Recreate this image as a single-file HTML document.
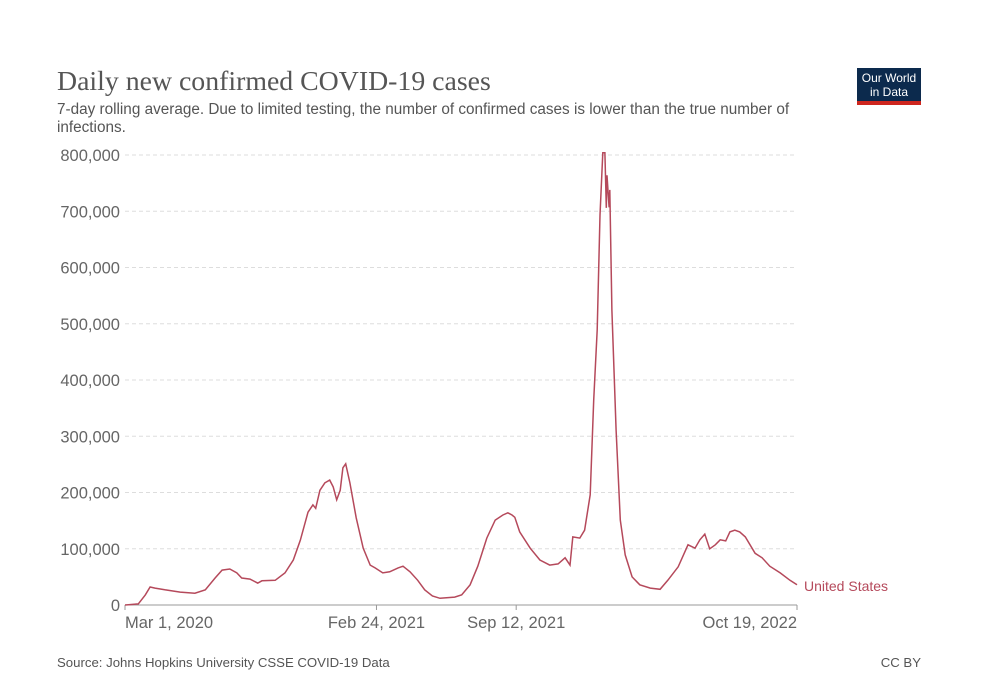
<!DOCTYPE html>
<html><head><meta charset="utf-8"><style>
body{margin:0;background:#fff;width:1000px;height:695px;overflow:hidden;font-family:"Liberation Sans",sans-serif}
</style></head><body>
<svg width="1000" height="695" id="c">
<text x="57" y="90" font-family="Liberation Serif,serif" font-size="27.8" fill="#555">Daily new confirmed COVID-19 cases</text>
<text x="57" y="114" font-size="15.3" fill="#555">7-day rolling average. Due to limited testing, the number of confirmed cases is lower than the true number of</text>
<text x="57" y="132" font-size="15.3" fill="#555">infections.</text>
<g>
<rect x="857" y="68" width="64" height="36" fill="#0c2a4d"/>
<rect x="857" y="101" width="64" height="4" fill="#ce261e"/>
<text x="889" y="82" font-size="12" fill="#fff" text-anchor="middle">Our World</text>
<text x="889" y="96" font-size="12" fill="#fff" text-anchor="middle">in Data</text>
</g>
<g id="grid"></g><g id="xt"></g>
<path id="line" fill="none" stroke="#b5495b" stroke-width="1.5"/>
<text x="804" y="591" font-size="14" fill="#b5495b">United States</text>
<text x="57" y="667" font-size="13.2" fill="#555">Source: Johns Hopkins University CSSE COVID-19 Data</text>
<text x="921" y="667" font-size="13.2" fill="#555" text-anchor="end">CC BY</text>
</svg>
<script>
const days=[0,19,29,36,43,57,79,100,115,129,139,150,160,167,179,190,196,215,229,241,251,262,269,273,279,286,293,298,303,308,312,316,322,331,341,351,358,369,379,391,398,408,419,429,440,451,472,482,494,505,518,530,541,548,554,558,565,580,594,608,620,630,637,641,651,658,666,671,676,680,684,687,689,690,693,694,697,703,709,716,726,737,752,766,777,792,806,816,823,830,837,845,852,860,866,873,880,888,902,912,923,938,952,962];
const cases=[0,2000,18000,32000,30000,27000,23000,21000,27000,48000,62000,64000,57000,48000,46000,39000,43000,44000,57000,80000,115000,165000,178000,172000,204000,217000,222000,210000,187000,204000,244000,251000,217000,155000,101000,71000,66000,57000,59000,66000,69000,59000,44000,27000,16000,12000,14000,18000,36000,69000,119000,151000,160000,164000,160000,156000,130000,101000,80000,71000,73000,84000,71000,121000,119000,133000,196000,364000,489000,693000,804000,804000,706000,764000,707000,738000,524000,311000,151000,89000,50000,36000,30000,28000,44000,68000,107000,101000,116000,126000,100000,107000,116000,114000,130000,133000,130000,121000,92000,84000,69000,57000,44000,36000];
const yTicks=[0,100000,200000,300000,400000,500000,600000,700000,800000];
const xTickDays=[0,360,560,962];
const xTickLabels=["Mar 1, 2020","Feb 24, 2021","Sep 12, 2021","Oct 19, 2022"];
const X=d=>125+d*(672/962), Y=v=>605-v*(450/800000);
const ns="http://www.w3.org/2000/svg";
const g=document.getElementById('grid');
yTicks.forEach(v=>{
 const l=document.createElementNS(ns,'line');
 l.setAttribute('x1',125);l.setAttribute('x2',797);l.setAttribute('y1',Y(v));l.setAttribute('y2',Y(v));
 l.setAttribute('stroke',v?'#ddd':'#999');if(v)l.setAttribute('stroke-dasharray','4,3');
 
 
 g.appendChild(l);
 const t=document.createElementNS(ns,'text');
 t.setAttribute('x',120);t.setAttribute('y',Y(v)+6);t.setAttribute('text-anchor','end');
 t.setAttribute('font-size','16.5');t.setAttribute('fill','#666');
 t.textContent=v.toLocaleString('en-US');
 
 
 g.appendChild(t);
});
const xt=document.getElementById('xt');
xTickDays.forEach((d,i)=>{
 const l=document.createElementNS(ns,'line');
 l.setAttribute('x1',X(d));l.setAttribute('x2',X(d));l.setAttribute('y1',605);l.setAttribute('y2',610);l.setAttribute('stroke','#999');
 
 
 xt.appendChild(l);
 const t=document.createElementNS(ns,'text');
 t.setAttribute('x',X(d));t.setAttribute('y',628);
 t.setAttribute('text-anchor',i==0?'start':i==xTickDays.length-1?'end':'middle');
 t.setAttribute('font-size','16.5');t.setAttribute('fill','#666');
 t.textContent=xTickLabels[i];
 
 
 xt.appendChild(t);
});
document.getElementById('line').setAttribute('d',days.map((d,i)=>(i?'L':'M')+X(d).toFixed(1)+','+Y(cases[i]).toFixed(1)).join(''));
</script>
</body></html>
